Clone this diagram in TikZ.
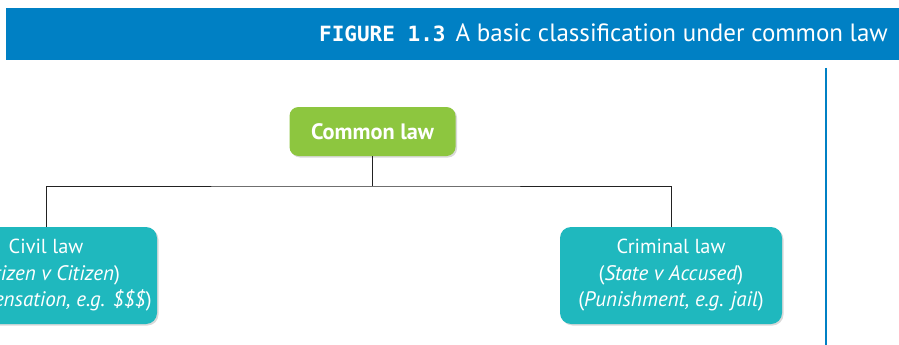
\documentclass[tikz,border=0pt]{standalone}
\usepackage{fontspec}
\setmainfont{PT Sans}
\newfontfamily\figmono{DejaVu Sans Mono}
\usetikzlibrary{shadows}
\definecolor{bandblue}{HTML}{0080C4}
\definecolor{leafgreen}{HTML}{8DC63F}
\definecolor{tealbox}{HTML}{1FB8BE}
\definecolor{linegray}{HTML}{222222}
\newcommand{\itl}[1]{{\fontsize{21}{26}\selectfont #1}}
\tikzset{
  rootbox/.style={fill=leafgreen, rounded corners=9pt, minimum width=166pt, minimum height=49pt,
    text=white, font=\fontsize{22.3}{24}\selectfont\bfseries, inner sep=0pt,
    drop shadow={shadow xshift=1.5pt, shadow yshift=-1.5pt, opacity=0.15, fill=black}},
  leafbox/.style={fill=tealbox, rounded corners=11pt, minimum width=222pt, minimum height=97pt,
    text=white, font=\fontsize{20.3}{26.5}\selectfont, align=center, inner sep=0pt,
    drop shadow={shadow xshift=1.5pt, shadow yshift=-1.5pt, opacity=0.15, fill=black}},
  link/.style={draw=linegray, line width=1pt},
}
\begin{document}
\begin{tikzpicture}[x=1pt,y=-1pt]
\useasboundingbox (0,0) rectangle (899,345);
\fill[white] (0,0) rectangle (899,345);
\fill[bandblue] (6,8) rectangle (899,60);
\node[anchor=base east, text=white, inner sep=0pt] (title) at (888,42)
  {{\figmono\bfseries\fontsize{21}{24}\selectfont FIGURE 1.3}\hspace{10pt}{\fontsize{25}{28}\selectfont A basic classification under common law}};
\draw[bandblue, line width=2.2pt] (826,68) coordinate (vtop) -- (826,345) coordinate (vbot);
\node[rootbox] (root) at (372.5,131.5) {Common law};
\node[leafbox] (civil) at (46,275.5) {Civil law\\\itl{(\textit{Citizen v Citizen})}\\\itl{(\textit{Compensation, e.g. \$\$\$})}};
\node[leafbox] (crim) at (671,275.5) {Criminal law\\\itl{(\textit{State v Accused})}\\\itl{(\textit{Punishment, e.g. jail})}};
\coordinate (split) at (372.5,186);
\draw[link] (root.south) -- (split);
\draw[link] (civil.north) |- (split) -| (crim.north);
\end{tikzpicture}
\end{document}
